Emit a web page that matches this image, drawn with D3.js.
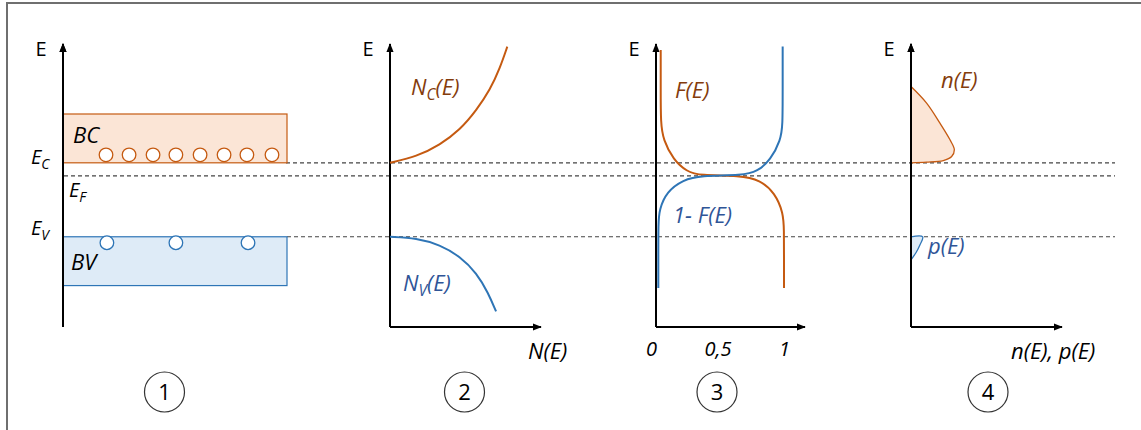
<!DOCTYPE html>
<html>
<head>
<meta charset="utf-8">
<script src="https://cdn.jsdelivr.net/npm/d3@7"></script>
<style>
  body { margin: 0; background: #fff; }
  svg { display: block; font-family: "Open Sans", Lato, sans-serif; }
</style>
</head>
<body>
<svg id="chart" width="1141" height="430"></svg>
<script>
const orange = '#c55a11';
const orangeFill = '#fbe5d6';
const blue = '#2e75b6';
const blueFill = '#deebf7';
const brownText = '#843c0c';
const blueText = '#2f5597';
const labelSize = 22;

// energy levels (Ev = 0, Ec = 1)
const levelNames = ['C', 'F', 'V'];
const levelValues = [1.0, 0.824, 0.0];

// panel 1 : bands and carriers
const bcBand = [1.0, 1.66];
const bvBand = [-0.66, 0.0];
const electronX = [0.192, 0.295, 0.402, 0.504, 0.612, 0.719, 0.821, 0.933];
const electronE = 1.108;
const holeX = [0.196, 0.504, 0.826];
const holeE = -0.081;

// panel 2 : density of states
const ncN = [0.0, 0.178, 0.333, 0.467, 0.578, 0.667, 0.733, 0.782];
const ncE = [1.0, 1.085, 1.243, 1.446, 1.716, 1.986, 2.28, 2.57];
const nvN = [0.0, 0.178, 0.333, 0.467, 0.578, 0.655, 0.707];
const nvE = [0.0, -0.018, -0.108, -0.266, -0.49, -0.76, -1.01];

// panel 3 : Fermi function
const fTicks = [0, 0.5, 1];
const fTickLabels = ['0', '0,5', '1'];
const fF = [0.073, 0.073, 0.073, 0.092, 0.168, 0.268, 0.368, 0.669, 0.82, 0.932, 0.995, 1.0, 1.0, 1.0];
const fE = [2.527, 2.0, 1.536, 1.311, 1.041, 0.882, 0.828, 0.828, 0.770, 0.591, 0.32, 0.095, -0.3, -0.693];
const gF = [0.99, 0.99, 0.99, 0.975, 0.9, 0.8, 0.69, 0.368, 0.243, 0.118, 0.062, 0.055, 0.055, 0.055];
const gE = [2.572, 2.0, 1.5, 1.311, 1.041, 0.882, 0.828, 0.828, 0.770, 0.612, 0.365, 0.185, -0.3, -0.693];

// panel 4 : carrier densities
const nN = [0.0, 0.104, 0.193, 0.26, 0.289, 0.271, 0.215, 0.104, 0.0];
const nE = [2.031, 1.807, 1.536, 1.311, 1.176, 1.085, 1.031, 1.009, 1.0];
const pN = [0.0, 0.078, 0.06, 0.033, 0.0];
const pE = [0.0, 0.0, -0.108, -0.216, -0.311];

const panelNumbers = ['1', '2', '3', '4'];

const svg = d3.select('#chart');

// energy scale shared by all panels
const y = d3.scaleLinear().domain([-1.22, 2.62]).range([327, 43]);

// one horizontal scale per panel
const x1 = d3.scaleLinear().domain([0, 1]).range([63, 287]);
const x2 = d3.scaleLinear().domain([0, 1]).range([390, 540]);
const x3 = d3.scaleLinear().domain([0, 1]).range([651, 784]);
const x4 = d3.scaleLinear().domain([0, 1]).range([911, 1061]);

const defs = svg.append('defs');
defs.append('marker')
    .attr('id', 'arrow')
    .attr('viewBox', '0 0 10 8')
    .attr('refX', 9).attr('refY', 4)
    .attr('markerWidth', 9).attr('markerHeight', 8)
    .attr('markerUnits', 'userSpaceOnUse')
    .attr('orient', 'auto')
    .append('path').attr('d', 'M0,0L10,4L0,8z').attr('fill', '#000');

// frame
svg.append('path')
    .attr('d', 'M7,430V3H1141')
    .attr('fill', 'none').attr('stroke', '#6f6f6f').attr('stroke-width', 2);

// dashed level lines
const dashStart = [286, 64, 287];
svg.selectAll('.level').data(levelValues).join('line')
    .attr('x1', (d, i) => dashStart[i]).attr('x2', 1115)
    .attr('y1', d => y(d)).attr('y2', d => y(d))
    .attr('stroke', '#444').attr('stroke-width', 1.2)
    .attr('stroke-dasharray', '4,3');

function label(x, yy, txt, color) {
    return svg.append('text').attr('x', x).attr('y', yy)
        .attr('font-size', labelSize).attr('font-style', 'italic')
        .attr('fill', color || '#000').text(txt);
}

function sub(x, yy, main, s, opts) {
    const size = opts.size || labelSize;
    const t = svg.append('text').attr('x', x).attr('y', yy)
        .attr('font-size', size).attr('font-style', 'italic')
        .attr('fill', opts.color || '#000');
    t.append('tspan').text(main);
    t.append('tspan').attr('font-size', size * 0.7).attr('dy', 5).text(s);
    if (opts.rest) t.append('tspan').attr('dy', -5).text(opts.rest);
    return t;
}

function axes(xs, withX) {
    const x0 = xs(0) + (xs === x3 ? 5 : 0);
    svg.append('line')
        .attr('x1', x0).attr('x2', x0).attr('y1', y.range()[0]).attr('y2', y.range()[1] + 1)
        .attr('stroke', '#000').attr('stroke-width', 2).attr('marker-end', 'url(#arrow)');
    if (withX) {
        svg.append('line')
            .attr('x1', x0).attr('x2', xs(1) + (xs === x3 ? 21 : 1)).attr('y1', y.range()[0]).attr('y2', y.range()[0])
            .attr('stroke', '#000').attr('stroke-width', 2).attr('marker-end', 'url(#arrow)');
    }
    svg.append('text')
        .attr('x', x0 - 22).attr('y', 56)
        .attr('font-size', 20).attr('text-anchor', 'middle')
        .text('E');
}

// ---- panel 1
axes(x1, false);
svg.append('rect')
    .attr('x', x1(0)).attr('y', y(bcBand[1]))
    .attr('width', x1(1) - x1(0)).attr('height', y(bcBand[0]) - y(bcBand[1]))
    .attr('fill', orangeFill).attr('stroke', orange).attr('stroke-width', 1.2);
svg.append('rect')
    .attr('x', x1(0)).attr('y', y(bvBand[1]))
    .attr('width', x1(1) - x1(0)).attr('height', y(bvBand[0]) - y(bvBand[1]))
    .attr('fill', blueFill).attr('stroke', blue).attr('stroke-width', 1.2);
svg.append('line')
    .attr('x1', x1(0)).attr('x2', x1(0)).attr('y1', y.range()[0]).attr('y2', y.range()[1] + 1)
    .attr('stroke', '#000').attr('stroke-width', 2).attr('marker-end', 'url(#arrow)');
svg.selectAll('.electron').data(electronX).join('circle')
    .attr('cx', d => x1(d)).attr('cy', y(electronE)).attr('r', 6.8)
    .attr('fill', '#fff').attr('stroke', orange).attr('stroke-width', 1.3);
svg.selectAll('.hole').data(holeX).join('circle')
    .attr('cx', d => x1(d)).attr('cy', y(holeE)).attr('r', 6.8)
    .attr('fill', '#fff').attr('stroke', blue).attr('stroke-width', 1.3);
label(73, 143, 'BC');
label(71, 270, 'BV');
sub(31, y(levelValues[0]) + 1, 'E', levelNames[0], {size: 20});
sub(69, 197, 'E', levelNames[1], {size: 20});
sub(31, 235, 'E', levelNames[2], {size: 20});

// ---- panel 2
axes(x2, true);
const line2 = d3.line().x(d => x2(d[0])).y(d => y(d[1])).curve(d3.curveBasis);
svg.append('path').attr('d', line2(d3.zip(ncN, ncE)))
    .attr('fill', 'none').attr('stroke', orange).attr('stroke-width', 2);
svg.append('path').attr('d', line2(d3.zip(nvN, nvE)))
    .attr('fill', 'none').attr('stroke', blue).attr('stroke-width', 2);
sub(411, 95, 'N', 'C', {color: brownText, rest: '(E)'});
sub(403, 291, 'N', 'V', {color: blueText, rest: '(E)'});
label(528, 359, 'N(E)');

// ---- panel 3
axes(x3, true);
const line3 = d3.line().x(d => x3(d[0])).y(d => y(d[1])).curve(d3.curveBasis);
svg.append('path').attr('d', line3(d3.zip(fF, fE)))
    .attr('fill', 'none').attr('stroke', orange).attr('stroke-width', 2);
svg.append('path').attr('d', line3(d3.zip(gF, gE)))
    .attr('fill', 'none').attr('stroke', blue).attr('stroke-width', 2);
const ax3 = svg.append('g').attr('transform', 'translate(0,' + (y.range()[0] + 12) + ')')
    .call(d3.axisBottom(x3).tickValues(fTicks).tickSize(0).tickFormat((d, i) => fTickLabels[i]));
ax3.select('.domain').remove();
ax3.selectAll('text').attr('font-size', 20).attr('font-style', 'italic')
    .attr('font-family', '"Open Sans", Lato, sans-serif');
label(675, 98, 'F(E)', brownText);
label(673, 223, '1- F(E)', blueText);

// ---- panel 4
axes(x4, true);
const area4 = d3.line().x(d => x4(d[0])).y(d => y(d[1])).curve(d3.curveCatmullRom);
svg.append('path').attr('d', area4(d3.zip(nN, nE)))
    .attr('fill', orangeFill).attr('stroke', orange).attr('stroke-width', 1.3);
svg.append('path').attr('d', area4(d3.zip(pN, pE)))
    .attr('fill', blueFill).attr('stroke', blue).attr('stroke-width', 1.3);
svg.append('line')
    .attr('x1', x4(0)).attr('x2', x4(0)).attr('y1', y.range()[0]).attr('y2', y.range()[1] + 1)
    .attr('stroke', '#000').attr('stroke-width', 2).attr('marker-end', 'url(#arrow)');
label(941, 88, 'n(E)', brownText);
label(928, 254, 'p(E)', blueText);
label(1011, 359, 'n(E), p(E)');

// ---- circled panel numbers
const numX = [164.5, 464.5, 717, 988];
const nums = svg.selectAll('.num').data(panelNumbers).join('g')
    .attr('transform', (d, i) => 'translate(' + numX[i] + ',392)');
nums.append('ellipse').attr('rx', 20).attr('ry', 20)
    .attr('fill', '#fff').attr('stroke', '#333').attr('stroke-width', 1.2);
nums.append('text').attr('text-anchor', 'middle').attr('dy', 8)
    .attr('font-size', 22).text(d => d);
</script>
</body>
</html>
